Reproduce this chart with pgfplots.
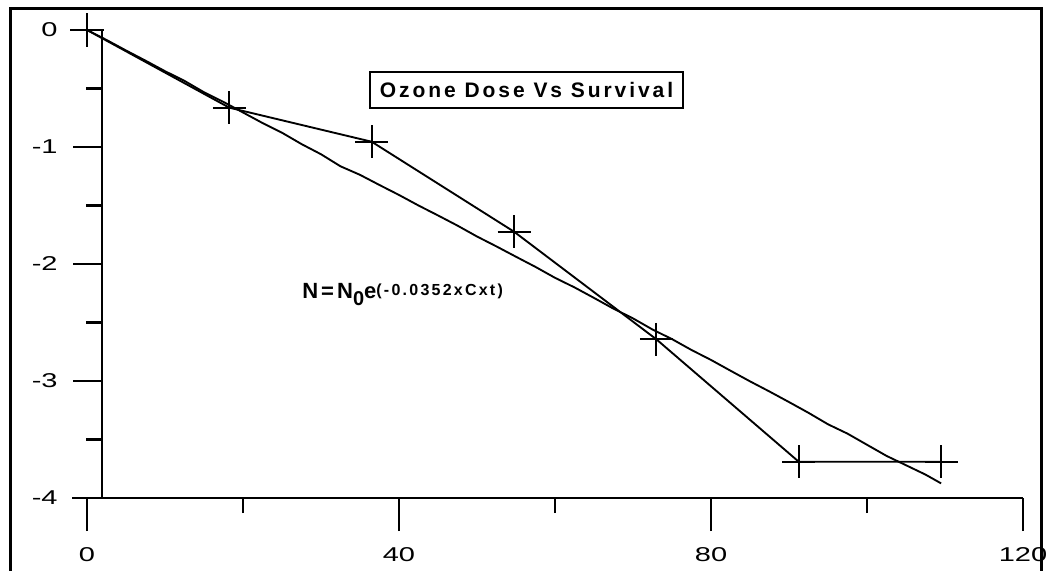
\documentclass[border=0pt]{standalone}
\usepackage{graphicx}
\usepackage{fontspec}
\setmainfont{Liberation Sans}
\newfontfamily\spaced[LetterSpace=14]{Liberation Sans}
\usepackage{pgfplots}
\usepackage{pgfplotstable}
\pgfplotsset{compat=1.18}
% tick labels are set wide in the reference
\newcommand\tl[1]{\scalebox{1.45}[1]{\fontsize{15}{18}\selectfont #1}}

% measured survival (log N/N0) against Cxt
\pgfplotstableread{
x y
0 0
18.25 -0.664
36.5 -0.955
54.75 -1.724
73 -2.644
91.25 -3.69
109.5 -3.69
}\meas

% fitted curve N=N0 e^(-0.0352 Cxt)
\pgfplotstableread{
x y
0 0
2.5 -0.085
5 -0.175
7.5 -0.262
10 -0.352
12.5 -0.435
15 -0.532
17.5 -0.615
20 -0.705
22.5 -0.795
25 -0.878
27.5 -0.975
30 -1.062
32.5 -1.165
35 -1.238
37.5 -1.325
40 -1.41
42.5 -1.50
45 -1.585
47.5 -1.672
50 -1.765
52.5 -1.850
55 -1.938
57.5 -2.025
60 -2.118
62.5 -2.200
65 -2.290
67.5 -2.382
70 -2.465
72.5 -2.560
75 -2.642
77.5 -2.735
80 -2.820
82.5 -2.912
85 -3.003
87.5 -3.090
90 -3.180
92.5 -3.272
95 -3.370
97.5 -3.450
100 -3.545
102.5 -3.640
105 -3.720
107.5 -3.800
109.5 -3.875
}\curve

\pgfplotsset{
  ozone/.style={
    x=5.85pt, y=87.75pt,
    ymin=-4, ymax=0, xmax=120,
    clip=false,
    axis line style={-, line width=2pt},
    tick align=outside,
    major tick style={line width=2pt, black},
    minor tick style={line width=2pt, black},
  }
}

\begin{document}
\begin{tikzpicture}[x=1pt,y=1pt]
\useasboundingbox (0,0) rectangle (784.5,428.25);
\draw[line width=2.25pt] (7.5,0) -- (7.5,421.5) -- (780.75,421.5) -- (780.75,0);

% y axis, set off to the right of x=0
\begin{axis}[ozone,
  at={(76.5pt,54.75pt)}, anchor=south west,
  xmin=1.923,
  axis x line=none, axis y line*=left,
  ytick={-4,-3,-2,-1,0},
  yticklabels={\tl{-4},\tl{-3},\tl{-2},\tl{-1},\tl{0}},
  minor ytick={-3.5,-2.5,-1.5,-0.5},
  major tick length=21.75pt, minor tick length=12pt,
  yticklabel style={xshift=-8pt},
]
\end{axis}

% x axis with the data
\begin{axis}[ozone,
  at={(54pt,54.75pt)}, anchor=south west,
  xmin=-1.923,
  axis y line=none, axis x line*=bottom,
  xtick={0,40,80,120},
  xticklabels={\tl{0},\tl{40},\tl{80},\tl{120}},
  minor xtick={20,60,100},
  major tick length=24.75pt, minor tick length=11.25pt,
  xticklabel style={yshift=-9pt},
]
\addplot[black, line width=1.4pt, mark=+, mark size=12.4pt,
  mark options={line width=1.4pt}] table {\meas};
\addplot[black, line width=1.4pt, no marks] table {\curve};
\end{axis}

\node[draw, line width=1.5pt, minimum width=234.75pt, minimum height=27pt,
  inner sep=0pt, font=\spaced\bfseries\fontsize{15.75}{18}\selectfont]
  at (394.9,360.75) {Ozone Dose Vs Survival};

\node[anchor=base west, inner sep=0pt,
  font=\spaced\bfseries\fontsize{16.5}{18}\selectfont] at (226.5,204)
  {N=N\raisebox{-5.25pt}{\fontsize{15}{16}\selectfont 0}e\raisebox{2.25pt}{\fontsize{12}{14}\selectfont(-0.0352xCxt)}};
\end{tikzpicture}
\end{document}
